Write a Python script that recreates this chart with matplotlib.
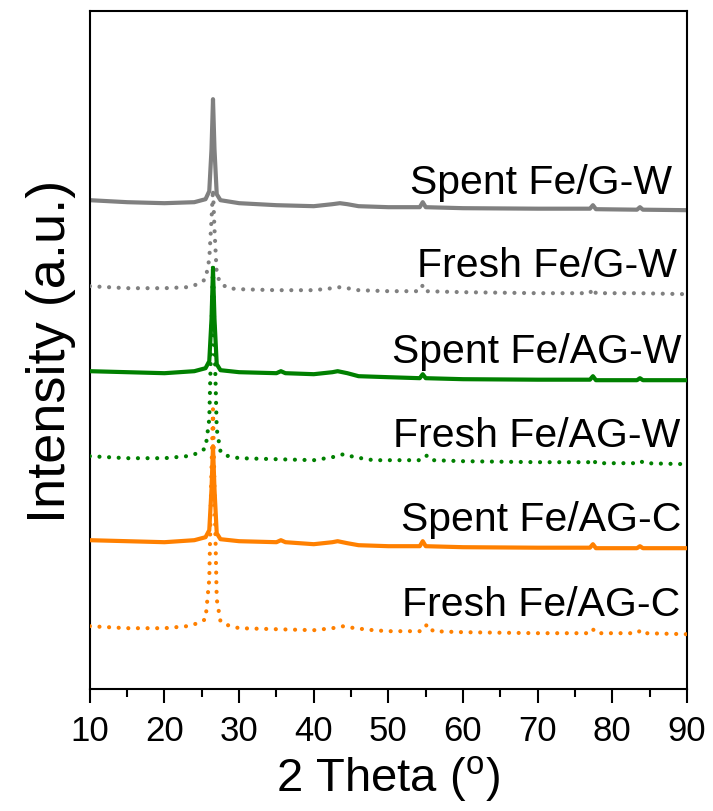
import matplotlib
matplotlib.use('Agg')
import matplotlib.pyplot as plt
from matplotlib.ticker import MultipleLocator
import numpy as np

plt.rcParams['font.family'] = ['Liberation Sans', 'DejaVu Sans']
plt.rcParams['mathtext.fontset'] = 'custom'
plt.rcParams['mathtext.rm'] = 'Liberation Sans'

# 2theta grids
tt_a = [10, 15, 20, 24, 25.5, 26.0, 26.3, 26.5, 26.7, 27.0, 27.5, 30, 35, 40, 42.5, 43.5,
        44.5, 46, 50, 54.2, 54.6, 55.0, 60, 70, 77.0, 77.4, 77.8, 83.3, 83.7, 84.1, 90]
tt_b = [10, 15, 20, 23, 24.5, 25.5, 26.0, 26.3, 26.5, 26.7, 27.0, 27.5, 28.5, 30, 35, 40,
        42.5, 43.5, 44.5, 46, 50, 54.2, 54.6, 55.0, 60, 70, 77.0, 77.4, 77.8, 83.5, 90]
tt_c = [10, 15, 20, 24, 25.5, 26.0, 26.3, 26.5, 26.7, 27.0, 27.5, 30, 35, 35.6, 36.2, 40,
        42.5, 43.2, 44.5, 46, 50, 54.2, 54.6, 55.0, 60, 70, 77.0, 77.4, 77.8, 83.3, 83.7, 84.1, 90]
tt_d = [10, 15, 20, 23, 24.5, 25.5, 26.0, 26.3, 26.5, 26.7, 27.0, 27.5, 28, 30, 35, 40,
        42.5, 44.0, 45.5, 48, 50, 54.5, 55.2, 56, 60, 70, 77.0, 77.4, 77.8, 83.3, 83.8, 84.3, 90]

# intensities (a.u.), relative to each pattern's own start
spent_gw = [0, -2, -3, -2, 1, 9, 51, 101, 51, 6, 0, -3, -5, -6, -4, -3, -4, -6, -7, -7,
            -2, -7, -8, -8.5, -8.5, -5, -9, -9.5, -7, -9.5, -10]
fresh_gw = [0, -2, -2, -1, 2, 7, 27, 67, 97, 57, 12, 3, -2, -3, -4, -4, -2, -1, -2, -4,
            -5, -5, 1, -5, -6, -7, -7, -2, -7, -7, -8]
spent_agw = [0, -1, -2, 0, 3, 10, 52, 102, 52, 7, 1, -1, -2, 0, -2, -3, -1, 0, -2, -5,
             -6, -7, -3, -7, -8, -8.5, -8.5, -5, -9, -9, -7, -9, -9]
fresh_agw = [0, -2, -2, 0, 3, 8, 37, 127, 193, 117, 27, 5, 1, -2, -3, -4, -1, 2, -1, -4,
             -4, -4, 1, -4, -5, -6, -6, -3, -7, -7, -5, -7, -8]
spent_agc = [0, -1, -2, 0, 3, 10, 51, 94, 51, 7, 1, -1, -2, 0, -2, -4, -2, -1, -3, -5,
             -6, -6, -1, -6, -7, -7.5, -7.5, -4, -8, -8, -6, -8, -8]
fresh_agc = [0, -2, -2, 0, 3, 7, 47, 157, 217, 137, 27, 5, 2, -2, -3, -4, -2, 0, -2, -4,
             -5, -5, 2, -5, -6, -7, -7, -3, -7, -7, -4, -7, -8]

labels = ['Spent Fe/G-W', 'Fresh Fe/G-W', 'Spent Fe/AG-W',
          'Fresh Fe/AG-W', 'Spent Fe/AG-C', 'Fresh Fe/AG-C']
offsets = [489, 403, 318, 233, 149, 63]

series = [(tt_a, spent_gw), (tt_b, fresh_gw), (tt_c, spent_agw),
          (tt_d, fresh_agw), (tt_c, spent_agc), (tt_d, fresh_agc)]
colors = ['#808080', '#808080', '#008000', '#008000', '#ff8000', '#ff8000']
styles = ['-', (0, (0.01, 2.3)), '-', (0, (0.01, 2.3)), '-', (0, (0.01, 2.3))]
# label anchor (right edge x, baseline y)
lab_x = [88.0, 88.6, 89.3, 89.1, 89.3, 89.1]
lab_y = [496, 413, 327, 243, 159, 74]

fig = plt.figure(figsize=(7.13, 8.12), dpi=100)
ax = fig.add_axes([0.126, 0.150, 0.8375, 0.835])

for i, (tt, yy) in enumerate(series):
    ax.plot(tt, np.array(yy) + offsets[i], color=colors[i], ls=styles[i],
            lw=3, dash_capstyle='round', solid_joinstyle='round', zorder=2 + i)
    ax.text(lab_x[i], lab_y[i], labels[i], ha='right', va='baseline', fontsize=29.5)

ax.set_xlim(10, 90)
ax.set_ylim(0, 678)
ax.set_yticks([])
ax.xaxis.set_major_locator(MultipleLocator(10))
ax.xaxis.set_minor_locator(MultipleLocator(5))
ax.tick_params(axis='x', which='major', length=10, width=1.5, labelsize=25, pad=8)
ax.tick_params(axis='x', which='minor', length=6, width=1.5)
for s in ax.spines.values():
    s.set_linewidth(1.5)

ax.set_xlabel(r'2 Theta ($^\mathregular{o}$)', fontsize=34, labelpad=4)
ax.set_ylabel('Intensity (a.u.)', fontsize=39, labelpad=10)

fig.savefig('out.png', dpi=100)
